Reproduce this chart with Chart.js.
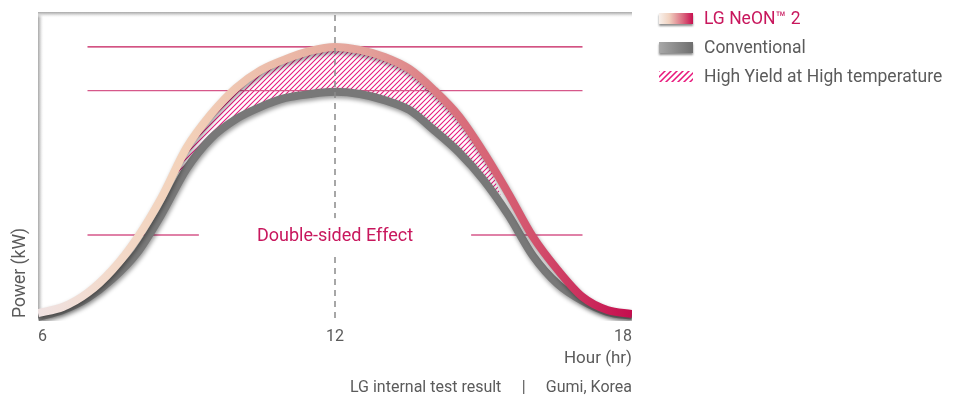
<!DOCTYPE html>
<html>
<head>
<meta charset="utf-8">
<script src="https://cdn.jsdelivr.net/npm/chart.js@4.4.1/dist/chart.umd.min.js"></script>
<style>
  html, body { margin:0; padding:0; background:#fff; }
  #wrap { width:959px; height:402px; position:relative; }
</style>
</head>
<body>
<div id="wrap"><canvas id="chart"></canvas></div>
<script>
// data (power is in relative units, axis has no numbers)
const hours     = [6, 6.5, 7, 7.5, 8, 8.5, 9, 9.5, 10, 10.5, 11, 11.5, 12, 12.5, 13, 13.5, 14, 14.5, 15, 15.5, 16, 16.5, 17, 17.5, 18];
const neonPower = [1.6, 3.6, 8.2, 15.7, 26.1, 39.5, 55.6, 66.7, 75.2, 81.0, 84.6, 87.3, 88.6, 87.6, 85.3, 81.4, 74.5, 66.0, 54.2, 40.8, 26.5, 15.7, 6.9, 2.6, 1.3];
const convPower = [0.3, 2.6, 6.5, 12.7, 21.2, 34.0, 48.7, 58.8, 65.0, 69.0, 71.9, 73.2, 73.9, 73.2, 71.2, 68.0, 61.4, 54.2, 45.1, 33.7, 20.3, 11.1, 5.6, 2.0, 0.7];

// hatched "high yield" band
const hatchHours  = [8.8, 9, 9.5, 10, 10.5, 11, 11.5, 12, 12.5, 13, 13.5, 14, 14.5, 15, 15.35];
const hatchTop    = [46.1, 55.6, 66.7, 75.2, 81.0, 84.6, 87.3, 88.6, 87.6, 85.3, 81.4, 74.5, 66.0, 54.2, 40.2];
const hatchBottom = [46.1, 48.7, 58.8, 65.0, 69.0, 71.9, 73.2, 73.9, 73.2, 71.2, 68.0, 61.4, 54.2, 45.1, 40.2];

// guide lines
const refLevels = [88.6, 74.3, 27.1];
const refFrom   = [7, 7, 7];
const refTo     = [17, 17, 17];
const refGap    = [null, null, [9.25, 14.75]];
const noonHour  = 12;

const xTicks = [6, 12, 18];
const legendLabels = ['LG NeON\u2122 2', 'Conventional', 'High Yield at High temperature'];
const noteText = 'Double-sided Effect';
const footText = 'LG internal test result \u2003|\u2003 Gumi, Korea';

const FONT = 'Roboto, "Open Sans", sans-serif';
const GREY_TXT = '#5b5b5b';
const CRIMSON = '#c8175d';

const pts = (xs, ys) => xs.map((x, i) => ({x: x, y: ys[i]}));

// hatch pattern
function makeHatch(size, color, w){
  const c = document.createElement('canvas');
  c.width = size; c.height = size;
  const g = c.getContext('2d');
  g.strokeStyle = color; g.lineWidth = w;
  g.beginPath();
  g.moveTo(-1, size + 1); g.lineTo(size + 1, -1);
  g.moveTo(-1, 1); g.lineTo(1, -1);
  g.moveTo(size - 1, size + 1); g.lineTo(size + 1, size - 1);
  g.stroke();
  return c;
}
const hatchCanvas = makeHatch(5, '#e8177c', 1.05);
const hatchPattern = document.createElement('canvas').getContext('2d').createPattern(hatchCanvas, 'repeat');

function neonGradient(context){
  const chart = context.chart;
  const a = chart.chartArea;
  if(!a) return '#e0a0a0';
  const g = chart.ctx.createLinearGradient(a.left, 0, a.right, 0);
  g.addColorStop(0.00, '#efe2e2');
  g.addColorStop(0.12, '#f3dacb');
  g.addColorStop(0.24, '#f3d2ba');
  g.addColorStop(0.45, '#e9b4a4');
  g.addColorStop(0.56, '#e39f99');
  g.addColorStop(0.70, '#da717d');
  g.addColorStop(0.82, '#d4576f');
  g.addColorStop(1.00, '#c50d4e');
  return g;
}

const refDatasets = refLevels.map((lv, i) => {
  let d = [{x: refFrom[i], y: lv}];
  if(refGap[i]) d.push({x: refGap[i][0], y: lv}, {x: noonHour, y: null}, {x: refGap[i][1], y: lv});
  d.push({x: refTo[i], y: lv});
  return {
    data: d, borderColor: i === 0 ? '#c41a5a' : '#d6588a', borderWidth: 1.4,
    pointRadius: 0, spanGaps: false, fill: false, order: 3
  };
});

const curveClip = {left: 0, top: 4, right: 0, bottom: 3};

const datasets = [
  { // 0 dashed noon line
    data: [{x: noonHour, y: 0}, {x: noonHour, y: 100}],
    borderColor: '#8a8a8a', borderWidth: 1.5, borderDash: [6, 5],
    pointRadius: 0, fill: false, order: 0, clip: {left: 0, top: 0, right: 0, bottom: 3}
  },
  { // 1 LG NeON
    label: legendLabels[0], data: pts(hours, neonPower),
    borderColor: neonGradient, borderWidth: 8, cubicInterpolationMode: 'monotone',
    pointRadius: 0, fill: false, order: 1, shadow: true, clip: curveClip
  },
  { // 2 conventional
    label: legendLabels[1], data: pts(hours, convPower),
    borderColor: '#787878', borderWidth: 8, cubicInterpolationMode: 'monotone',
    pointRadius: 0, fill: false, order: 2, shadow: true, clip: curveClip
  },
  { // 3 hatch top
    label: legendLabels[2], data: pts(hatchHours, hatchTop),
    borderWidth: 0, borderColor: 'rgba(0,0,0,0)', backgroundColor: hatchPattern,
    cubicInterpolationMode: 'monotone', pointRadius: 0, fill: '+1', order: 5
  },
  { // 4 hatch bottom
    data: pts(hatchHours, hatchBottom),
    borderWidth: 0, borderColor: 'rgba(0,0,0,0)',
    cubicInterpolationMode: 'monotone', pointRadius: 0, fill: false, order: 6
  }
].concat(refDatasets);

// soft shadow under the two curves
const shadowPlugin = {
  id: 'curveShadow',
  beforeDatasetDraw(chart, args){
    if(!chart.data.datasets[args.index].shadow) return;
    const c = chart.ctx;
    c.save();
    c.shadowColor = 'rgba(0,0,0,0.4)';
    c.shadowBlur = 4;
    c.shadowOffsetX = 1;
    c.shadowOffsetY = 2.5;
  },
  afterDatasetDraw(chart, args){
    if(!chart.data.datasets[args.index].shadow) return;
    chart.ctx.restore();
  }
};

// grey frame on top and left
const framePlugin = {
  id: 'frame',
  beforeDatasetsDraw(chart){
    const c = chart.ctx, a = chart.chartArea;
    c.save();
    let g = c.createLinearGradient(a.left, 0, a.left + 6, 0);
    g.addColorStop(0, '#a9a9a9'); g.addColorStop(0.35, '#d2d2d2'); g.addColorStop(1, 'rgba(255,255,255,0)');
    c.fillStyle = g;
    c.fillRect(a.left, a.top, 6, a.bottom - a.top);
    g = c.createLinearGradient(0, a.top, 0, a.top + 6);
    g.addColorStop(0, '#a9a9a9'); g.addColorStop(0.35, '#d2d2d2'); g.addColorStop(1, 'rgba(255,255,255,0)');
    c.fillStyle = g;
    c.fillRect(a.left, a.top, a.right - a.left, 6);
    c.restore();
  }
};

// centre note, legend and footnote
const textPlugin = {
  id: 'texts',
  afterDraw(chart){
    const c = chart.ctx, a = chart.chartArea;
    const xs = chart.scales.x, ys = chart.scales.y;
    c.save();
    // note over the noon line
    const nx = xs.getPixelForValue(noonHour), ny = ys.getPixelForValue(refLevels[2]);
    c.font = '18px ' + FONT;
    const tw = c.measureText(noteText).width;
    c.fillStyle = '#fff';
    c.fillRect(nx - tw / 2 - 8, ny - 17, tw + 16, 34);
    c.fillStyle = CRIMSON;
    c.textAlign = 'center'; c.textBaseline = 'middle';
    c.fillText(noteText, nx, ny + 1);

    // legend
    const lx = 659, lw = 34, lh = 11, rows = [18.5, 47.5, 76.5];
    c.textAlign = 'left';
    c.font = '17.5px ' + FONT;
    c.save();
    c.shadowColor = 'rgba(0,0,0,0.45)'; c.shadowBlur = 2; c.shadowOffsetY = 1.5;
    let g = c.createLinearGradient(lx, 0, lx + lw, 0);
    g.addColorStop(0, '#f8f1ec'); g.addColorStop(0.3, '#f1d2c0'); g.addColorStop(0.7, '#da6a80'); g.addColorStop(1, '#c80f50');
    c.fillStyle = g;
    c.fillRect(lx, rows[0] - lh / 2, lw, lh);
    g = c.createLinearGradient(lx, 0, lx + lw, 0);
    g.addColorStop(0, '#a8a8a8'); g.addColorStop(1, '#6e6e6e');
    c.fillStyle = g;
    c.fillRect(lx, rows[1] - lh / 2, lw, lh);
    c.restore();
    // hatch swatch
    c.save();
    c.beginPath(); c.rect(lx, rows[2] - lh / 2, lw, lh); c.clip();
    c.strokeStyle = '#e8177c'; c.lineWidth = 1.5;
    c.beginPath();
    for(let k = -12; k < lw + 12; k += 6){
      c.moveTo(lx + k, rows[2] + lh / 2 + 1);
      c.lineTo(lx + k + lh + 2, rows[2] - lh / 2 - 1);
    }
    c.stroke();
    c.restore();
    legendLabels.forEach((t, i) => {
      c.fillStyle = i === 0 ? CRIMSON : GREY_TXT;
      c.fillText(t, 704, rows[i] + 1);
    });

    // footnote
    c.textAlign = 'right';
    c.fillStyle = GREY_TXT;
    c.font = '16px ' + FONT;
    c.fillText(footText, a.right, 388);
    c.restore();
  }
};

new Chart(document.getElementById('chart'), {
  type: 'line',
  data: { datasets: datasets },
  options: {
    responsive: true,
    maintainAspectRatio: false,
    animation: false,
    layout: { padding: { left: 0, top: 12, right: 327, bottom: 0 } },
    scales: {
      x: {
        type: 'linear', min: 6, max: 18,
        afterBuildTicks: ax => { ax.ticks = xTicks.map(v => ({value: v})); },
        afterFit: ax => { ax.height = 84; },
        grid: { display: false, drawTicks: false },
        border: { display: false },
        ticks: { color: GREY_TXT, font: { family: FONT, size: 16 }, padding: 9, align: 'inner', maxRotation: 0 },
        title: { display: true, text: 'Hour (hr)', align: 'end', color: GREY_TXT,
                 font: { family: FONT, size: 17 }, padding: { top: 0, bottom: 33 } }
      },
      y: {
        min: 0, max: 100,
        afterFit: ax => { ax.width = 38; },
        grid: { display: false, drawTicks: false },
        border: { display: false },
        ticks: { display: false },
        title: { display: true, text: 'Power (kW)', align: 'start', color: GREY_TXT,
                 font: { family: FONT, size: 17.5 }, padding: { top: 10, bottom: 0 } }
      }
    },
    plugins: {
      legend: { display: false },
      tooltip: { enabled: false }
    }
  },
  plugins: [shadowPlugin, framePlugin, textPlugin]
});
</script>
</body>
</html>
